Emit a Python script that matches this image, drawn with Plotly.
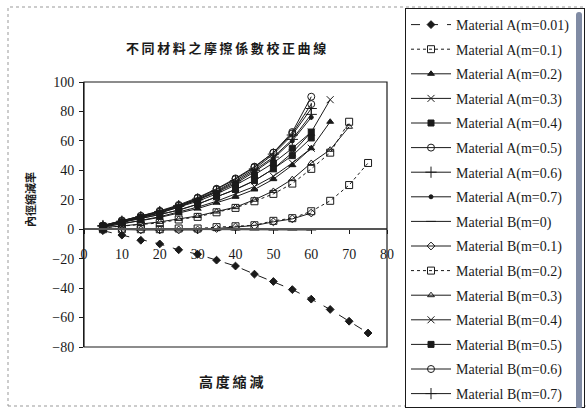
import plotly.graph_objects as go

# ---------------- data ----------------
x_to75 = [5, 10, 15, 20, 25, 30, 35, 40, 45, 50, 55, 60, 65, 70, 75]
x_to70 = x_to75[:14]
x_to65 = x_to75[:13]
x_to60 = x_to75[:12]

names = [
    "Material A(m=0.01)", "Material A(m=0.1)", "Material A(m=0.2)", "Material A(m=0.3)",
    "Material A(m=0.4)", "Material A(m=0.5)", "Material A(m=0.6)", "Material A(m=0.7)",
    "Material B(m=0)", "Material B(m=0.1)", "Material B(m=0.2)", "Material B(m=0.3)",
    "Material B(m=0.4)", "Material B(m=0.5)", "Material B(m=0.6)", "Material B(m=0.7)",
]

a_001 = [-1, -4, -7.5, -10, -14, -17, -21, -25, -30.5, -35.5, -41, -47.5, -54.5, -62.5, -70.5]
a_01 = [1, 2, 3, 4.3, 6.6, 8.4, 11.5, 14.5, 19, 24, 31, 41, 52, 73]
a_02 = [1.5, 3.5, 5.5, 8, 11, 14, 18, 22, 27, 34, 43.5, 55, 73]
a_03 = [2, 4.5, 7, 10, 13, 17, 22, 27, 33, 41, 52, 66, 88]
a_04 = [2, 5, 8, 11, 15, 19, 24, 30, 37, 45, 55, 66]
a_05 = [2.5, 6, 9, 12, 16, 21, 27, 34, 42, 52, 66, 90]
a_06 = [2.5, 5.5, 8.5, 12, 16, 20.5, 26, 33, 41, 51, 64, 82]
a_07 = [2, 5, 8, 11, 15, 20, 25, 31, 39, 48, 60, 76]
b_0 = [0, 0, -0.5, -0.5, -0.5, -0.5, -0.5, -0.5, -0.5, -0.5, -0.5, -0.5]
b_01 = [0, -0.5, -0.5, -0.5, -0.5, -0.5, 0.5, 1.5, 2.5, 5, 7, 11]
b_02 = [0, 0, 0, 0, 0.5, 0.5, 1.4, 2, 2.7, 5.7, 7.5, 12.2, 19.3, 30, 45]
b_03 = [1, 2, 3.5, 5, 7, 9, 12, 15, 20, 26, 34, 45, 54, 69.6]
b_04 = [1.5, 3.5, 6, 8.5, 11.5, 15, 19, 24, 29, 36, 45, 55]
b_05 = [2, 4.5, 7, 10, 13, 17, 22, 27, 33, 41, 50, 62]
b_06 = [2.5, 5.5, 9, 12.5, 16.5, 21.5, 27.5, 34.5, 42.5, 52, 65, 85]
b_07 = [2, 5, 8, 11.5, 15.5, 20, 25.5, 32, 40, 49, 61, 78]

series_x = [x_to75, x_to70, x_to65, x_to65, x_to60, x_to60, x_to60, x_to60,
            x_to60, x_to60, x_to75, x_to70, x_to60, x_to60, x_to60, x_to60]
series_y = [a_001, a_01, a_02, a_03, a_04, a_05, a_06, a_07,
            b_0, b_01, b_02, b_03, b_04, b_05, b_06, b_07]

x_ticks = [0, 10, 20, 30, 40, 50, 60, 70, 80]
y_ticks = [-80, -60, -40, -20, 0, 20, 40, 60, 80, 100]

title_text = "不同材料之摩擦係數校正曲線"
x_title = "高度縮減"
y_title = "內徑縮減率"

# ---------------- styles ----------------
symbols = ["diamond", "square-open", "triangle-up", "x-thin-open", "square", "circle-open",
           "cross-thin-open", "circle", "line-ew-open", "diamond-open", "square-open",
           "triangle-up-open", "x-thin-open", "square", "circle-open", "cross-thin-open"]
msizes = [6, 7, 6, 7, 6, 7, 8, 4, 7, 6, 7, 6, 7, 6, 7, 8]
dashes = ["dash", "dot", "solid", "solid", "solid", "solid", "solid", "solid",
          "solid", "solid", "dot", "solid", "solid", "solid", "solid", "solid"]

INK = "#1a1a1a"
W, H = 586, 408
L, R, T, B = 84, 387, 82, 347


def px(xp):
    return (xp - L) / (R - L)


def py(yp):
    return (B - yp) / (B - T)


fig = go.Figure()
for i, nm in enumerate(names):
    fig.add_trace(go.Scatter(
        x=series_x[i], y=series_y[i], name=nm, mode="lines+markers",
        legendgroup=f"g{i}",
        line=dict(color=INK, width=1, dash=dashes[i]),
        marker=dict(symbol=symbols[i], size=msizes[i], color=INK,
                    line=dict(color=INK, width=1)),
    ))

serif = "Liberation Serif, Times New Roman, serif"
cjk = "Noto Sans CJK TC, Noto Sans CJK SC, sans-serif"
sp = "\u2009"

fig.update_layout(
    width=W, height=H,
    margin=dict(l=L, r=W - R, t=T, b=H - B, autoexpand=False),
    paper_bgcolor="white", plot_bgcolor="white",
    showlegend=True,
    legend=dict(
        x=px(405), y=py(8), xanchor="left", yanchor="top",
        bordercolor=INK, borderwidth=1, bgcolor="white",
        font=dict(family=serif, size=14, color=INK),
        tracegroupgap=3.4, itemwidth=40, maxheight=400,
    ),
    xaxis=dict(
        range=[0, 80], tickmode="array", tickvals=x_ticks,
        anchor="free", position=80 / 180,
        showline=True, linecolor="#555", linewidth=1.5,
        ticks="outside", ticklen=4, tickcolor=INK,
        ticklabelstandoff=8,
        showgrid=False, zeroline=False,
        tickfont=dict(family=serif, size=14, color=INK),
    ),
    yaxis=dict(
        range=[-80, 100], tickmode="array", tickvals=y_ticks,
        showline=True, linecolor=INK, linewidth=1,
        ticks="outside", ticklen=4, tickcolor=INK,
        ticklabelstandoff=2,
        showgrid=False, zeroline=False,
        tickfont=dict(family=serif, size=14, color=INK),
    ),
    shapes=[
        dict(type="rect", xref="paper", yref="paper", x0=0, x1=1, y0=0, y1=1,
             line=dict(color=INK, width=1.2)),
        dict(type="rect", xref="paper", yref="paper", x0=px(8), x1=px(600),
             y0=py(406), y1=py(7), line=dict(color="#999", width=1, dash="dot"),
             layer="below"),
    ],
    annotations=[
        dict(text="<b>" + sp.join(title_text) + "</b>", x=px(226), y=py(47),
             xref="paper", yref="paper", xanchor="center", yanchor="middle",
             showarrow=False, font=dict(family=cjk, size=13, color=INK)),
        dict(text="<b>" + sp.join(x_title) + "</b>", x=px(231), y=py(381),
             xref="paper", yref="paper", xanchor="center", yanchor="middle",
             showarrow=False, font=dict(family=cjk, size=14, color=INK)),
        dict(text=f"<b>{y_title}</b>", x=px(30), y=py(200), xref="paper", yref="paper",
             xanchor="center", yanchor="middle",
             showarrow=False, textangle=-90, font=dict(family=cjk, size=11, color=INK)),
    ],
)

fig.write_html("out.html")
